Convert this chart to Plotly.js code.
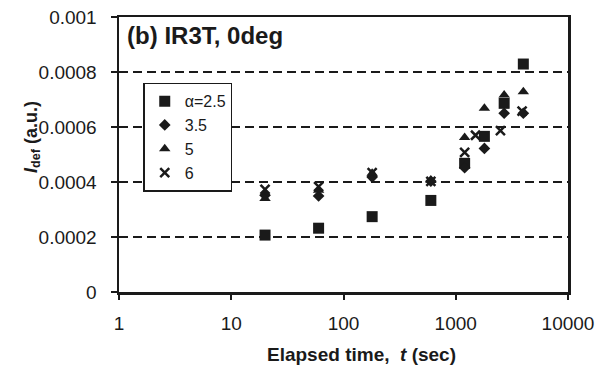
<!DOCTYPE html>
<html>
<head>
<meta charset="utf-8">
<script src="https://cdn.plot.ly/plotly-3.0.1.min.js"></script>
<style>html,body{margin:0;padding:0;background:#fff}#chart{width:600px;height:370px}</style>
</head>
<body>
<div id="chart"></div>
<script>
// Data
var seriesNames = ["\u03b1=2.5", "3.5", "5", "6"];
var timeA25 = [20, 60, 180, 600, 1200, 1800, 2700, 4000];
var idefA25 = [0.000207, 0.000232, 0.000274, 0.000333, 0.000468, 0.000566, 0.000686, 0.000829];
var timeA35 = [20, 60, 180, 600, 1200, 1800, 2700, 4000];
var idefA35 = [0.000352, 0.000349, 0.000418, 0.000403, 0.000452, 0.000522, 0.000650, 0.000650];
var timeA5 = [20, 60, 180, 600, 1200, 1800, 2700, 4000];
var idefA5 = [0.000340, 0.000370, 0.000432, 0.000406, 0.000562, 0.000668, 0.000716, 0.000728];
var timeA6 = [20, 60, 180, 600, 1200, 1500, 2500, 3900];
var idefA6 = [0.000373, 0.000383, 0.000434, 0.000402, 0.000508, 0.000570, 0.000587, 0.000658];

var xTickVals = [1, 10, 100, 1000, 10000];
var xTickText = ["1", "10", "100", "1000", "10000"];
var yTickVals = [0, 0.0002, 0.0004, 0.0006, 0.0008, 0.001];
var yTickText = ["0", "0.0002", "0.0004", "0.0006", "0.0008", "0.001"];
var chartTitle = "<b>(b) IR3T, 0deg</b>";
var xTitle = "<b>Elapsed time,  <i>t</i> (sec)</b>";
var yTitle = "<b><i>I</i><sub>def</sub> (a.u.)</b>";

var ink = "#1a1a1a";
function mk(x, y, name, symbol, size, lw) {
  var m = {symbol: symbol, size: size, color: ink, line: {width: lw || 0, color: ink}};
  return {x: x, y: y, name: name, type: "scatter", mode: "markers", marker: m, cliponaxis: false};
}
var traces = [
  mk(timeA25, idefA25, seriesNames[0], "square", 11),
  mk(timeA35, idefA35, seriesNames[1], "diamond", 9),
  mk(timeA5, idefA5, seriesNames[2], "triangle-up", 10),
  mk(timeA6, idefA6, seriesNames[3], "x-thin", 9, 2.5)
];

var font = "Liberation Sans, Arial, sans-serif";
var layout = {
  width: 600, height: 370,
  margin: {l: 119, r: 32, t: 17, b: 78},
  paper_bgcolor: "#fff", plot_bgcolor: "#fff",
  font: {family: font, size: 19, color: ink},
  showlegend: true,
  title: {text: chartTitle, font: {size: 24, color: ink},
          xref: "paper", yref: "paper", x: 0.018, xanchor: "left", y: 0.932, yanchor: "middle"},
  xaxis: {
    type: "log", range: [0, 4],
    tickvals: xTickVals, ticktext: xTickText,
    ticks: "outside", ticklen: 5, tickwidth: 2, tickcolor: ink,
    showline: true, linewidth: 2.5, linecolor: ink, mirror: true,
    showgrid: false, zeroline: false,
    tickfont: {size: 19, color: ink}, ticklabelstandoff: 8
  },
  yaxis: {
    range: [0, 0.001],
    tickvals: yTickVals, ticktext: yTickText,
    ticks: "outside", ticklen: 6, tickwidth: 2, tickcolor: ink,
    showline: true, linewidth: 2.5, linecolor: ink, mirror: true,
    showgrid: true, gridcolor: ink, gridwidth: 2.5, griddash: "9px,5px",
    zeroline: false,
    tickfont: {size: 19, color: ink}, ticklabelstandoff: 10
  },
  annotations: [
    {text: xTitle, xref: "paper", yref: "paper", x: 0.539, y: -0.229,
     xanchor: "center", yanchor: "middle", showarrow: false, font: {size: 19, color: ink}},
    {text: yTitle, xref: "paper", yref: "paper", x: -0.193, y: 0.565, textangle: -90,
     xanchor: "center", yanchor: "middle", showarrow: false, font: {size: 18, color: ink}}
  ],
  legend: {
    x: 0.054, y: 0.761, xanchor: "left", yanchor: "top",
    bgcolor: "#fff", bordercolor: ink, borderwidth: 1.5,
    font: {size: 16, color: ink}, itemwidth: 30
  }
};
Plotly.newPlot("chart", traces, layout, {staticPlot: true, displayModeBar: false});
</script>
</body>
</html>
